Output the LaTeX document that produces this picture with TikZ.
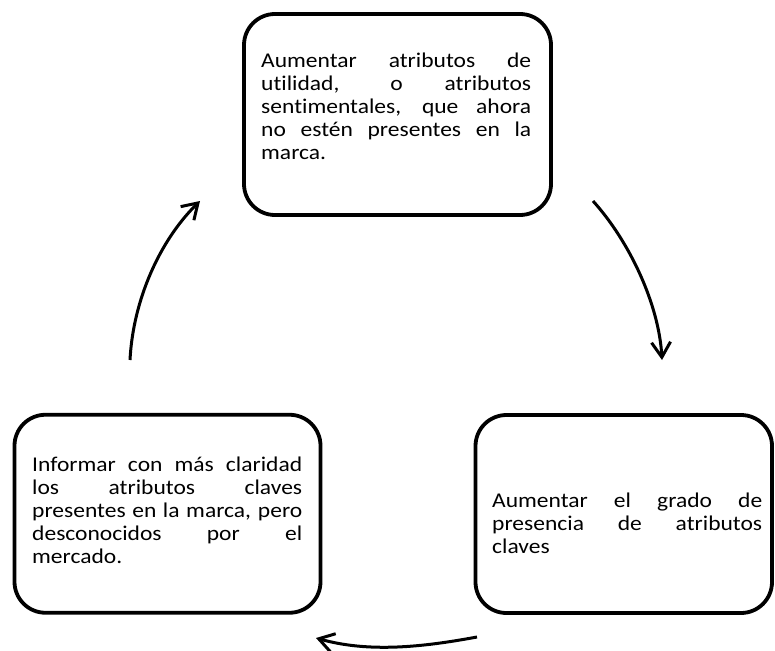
\documentclass[tikz,border=0pt]{standalone}
\usepackage{fontspec}
\setmainfont{Carlito}[FakeStretch=1.12,Ligatures={NoCommon}]
\usetikzlibrary{arrows.meta}
\newcommand{\jline}[1]{\makebox[\hsize][s]{\spaceskip=0pt\xspaceskip=0pt #1}}
\newcommand{\boxfont}{\fontsize{21}{23}\selectfont}
\lineskiplimit=-50pt
\begin{document}
\begin{tikzpicture}[x=1pt,y=-1pt,
  box/.style={draw=black, line width=3.8pt, rounded corners=31pt, inner sep=0pt},
  txt/.style={inner sep=0pt, anchor=base west, text width=270pt, align=left, font=\boxfont},
  arr/.style={draw=black, line width=3pt, -{Straight Barb[length=15pt,width=19pt]}}]
\useasboundingbox (0,0) rectangle (775,650);
% boxes
\node[box, minimum width=307pt, minimum height=201pt] (top) at (397.5,114.5) {};
\node[box, minimum width=306pt, minimum height=198pt] (left) at (167.5,513.75) {};
\node[box, minimum width=296.5pt, minimum height=198pt] (right) at (623.75,514) {};
% texts
\node[txt] (ttop) at (261,68) {\jline{Aumentar atributos de}\\\jline{utilidad, o atributos}\\\jline{sentimentales, que ahora}\\\jline{no estén presentes en la}\\marca.};
\node[txt] (tleft) at (32,471) {\jline{Informar con más claridad}\\\jline{los atributos claves}\\\jline{presentes en la marca, pero}\\\jline{desconocidos por el}\\mercado.};
\node[txt] (tright) at (492,507) {\jline{Aumentar el grado de}\\\jline{presencia de atributos}\\claves};
% arrow end points
\coordinate (a1s) at (593,201);
\coordinate (a1e) at (662,360);
\coordinate (a2s) at (477,637);
\coordinate (a2e) at (316,638);
\coordinate (a3s) at (130,360);
\coordinate (a3e) at (200,201);
\draw[arr] (a1s) .. controls (630,242) and (659,305) .. (a1e);
\draw[arr] (a2s) .. controls (423,647) and (369,653) .. (a2e);
\draw[arr] (a3s) .. controls (133,300) and (160,240) .. (a3e);
\end{tikzpicture}
\end{document}
